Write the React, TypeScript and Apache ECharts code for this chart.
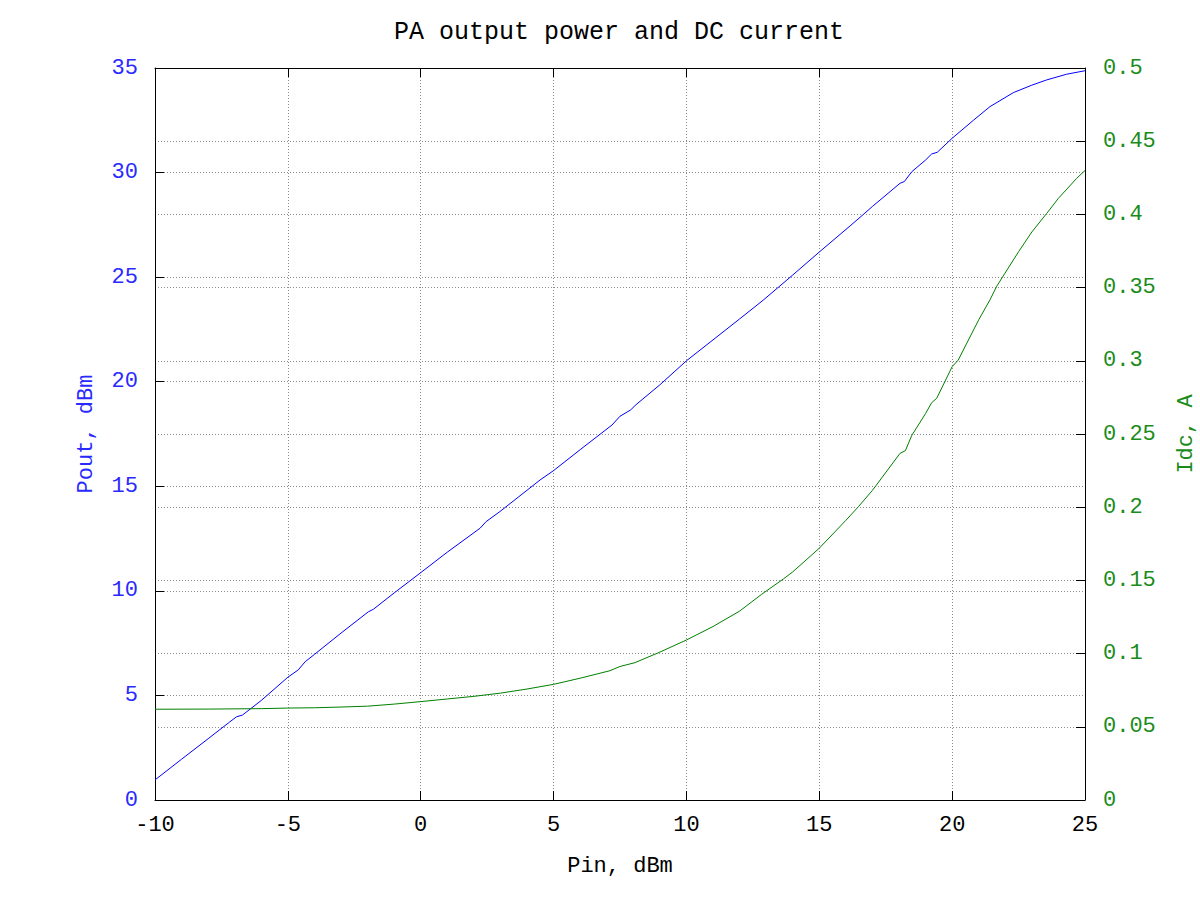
import React, { useEffect, useRef } from "react";
import * as echarts from "echarts";

const titleText = "PA output power and DC current";
const xName = "Pin, dBm";
const yLeftName = "Pout, dBm";
const yRightName = "Idc, A";

// Pout curve (Pin in dBm, Pout in dBm)
const poutPin = [-10, -9, -8, -7.2, -6.93, -6.71, -6, -5, -4.61, -4.35, -4, -3, -1.97, -1.78, -1, 0, 1, 2.23, 2.46, 2.98, 3.21, 4.49, 5, 6, 7.2, 7.5, 7.9, 8.1, 9, 10, 11, 12, 12.89, 14, 15, 16.16, 16.66, 17, 18.04, 18.2, 18.48, 19, 19.23, 19.44, 20, 20.8, 21.42, 22.3, 23, 23.56, 24.3, 25];
const poutVal = [0.96, 1.95, 2.93, 3.72, 3.98, 4.06, 4.76, 5.87, 6.22, 6.61, 6.96, 7.98, 9.0, 9.12, 9.9, 10.87, 11.85, 12.99, 13.31, 13.79, 14.02, 15.3, 15.75, 16.75, 17.93, 18.35, 18.65, 18.9, 19.85, 21.0, 22.0, 23.0, 23.9, 25.1, 26.2, 27.45, 28.0, 28.38, 29.49, 29.57, 30.04, 30.6, 30.89, 30.97, 31.64, 32.5, 33.15, 33.82, 34.18, 34.43, 34.7, 34.87];

// Idc curve (Pin in dBm, Idc in A)
const idcPin = [-10, -8, -6, -5, -4, -3, -2, -1, 0, 1, 2, 3, 4, 5, 6, 7.12, 7.5, 8.06, 9, 10, 11, 12, 12.83, 13.65, 14, 15, 16, 16.47, 17, 18.04, 18.24, 18.48, 19, 19.23, 19.42, 20, 20.23, 21, 21.42, 21.68, 22.5, 23, 23.56, 24, 24.69, 25];
const idcVal = [0.062, 0.0621, 0.0624, 0.0628, 0.063, 0.0635, 0.0641, 0.0655, 0.0672, 0.069, 0.0708, 0.073, 0.0758, 0.079, 0.0832, 0.0883, 0.0912, 0.0938, 0.101, 0.1093, 0.1185, 0.129, 0.1405, 0.151, 0.1558, 0.172, 0.191, 0.2003, 0.2115, 0.2368, 0.2386, 0.249, 0.264, 0.2714, 0.2744, 0.296, 0.3005, 0.328, 0.3415, 0.351, 0.3745, 0.388, 0.4007, 0.411, 0.4247, 0.43];

const FONT = "'Liberation Mono', 'DejaVu Sans Mono', monospace";
const BLUE = "#2a2aff";
const GREEN = "#1a8c1a";

export default function App() {
  const ref = useRef<HTMLDivElement>(null);
  useEffect(() => {
    document.body.style.margin = "0";
    const chart = echarts.init(ref.current!, null, { renderer: "svg" });
    const gridLine = { show: true, lineStyle: { color: "#8a8a8a", width: 1, type: [1, 2] as any } };
    const axisLineStyle = { show: true, onZero: false, lineStyle: { color: "#000", width: 1 } };
    const tick = { show: true, inside: true, length: 9, lineStyle: { color: "#000" } };
    chart.setOption({
      animation: false,
      backgroundColor: "#fff",
      graphic: [
        {
          type: "text",
          x: 619,
          y: 32,
          style: {
            text: titleText,
            font: `25px ${FONT}`,
            fill: "#000",
            textAlign: "center",
            textVerticalAlign: "middle",
          },
        },
      ],
      grid: {
        left: 155,
        right: 115,
        top: 68,
        bottom: 100,
        containLabel: false,
        outerBoundsMode: "none",
      },
      xAxis: [
        {
          type: "value",
          min: -10,
          max: 25,
          interval: 5,
          position: "bottom",
          axisLine: axisLineStyle,
          axisTick: tick,
          axisLabel: { fontFamily: FONT, fontSize: 22, color: "#000", margin: 14 },
          splitLine: gridLine,
          name: xName,
          nameLocation: "middle",
          nameGap: 55,
          nameTextStyle: { fontFamily: FONT, fontSize: 22, color: "#000" },
        },
        {
          type: "value",
          min: -10,
          max: 25,
          interval: 5,
          position: "top",
          axisLine: axisLineStyle,
          axisTick: tick,
          axisLabel: { show: false },
          splitLine: { show: false },
        },
      ],
      yAxis: [
        {
          type: "value",
          min: 0,
          max: 35,
          interval: 5,
          position: "left",
          axisLine: axisLineStyle,
          axisTick: tick,
          axisLabel: { fontFamily: FONT, fontSize: 22, color: BLUE, margin: 17 },
          splitLine: gridLine,
          name: yLeftName,
          nameLocation: "middle",
          nameRotate: 90,
          nameGap: 58,
          nameTextStyle: { fontFamily: FONT, fontSize: 22, color: BLUE },
        },
        {
          type: "value",
          min: 0,
          max: 0.5,
          interval: 0.05,
          position: "right",
          axisLine: axisLineStyle,
          axisTick: tick,
          axisLabel: {
            fontFamily: FONT,
            fontSize: 22,
            color: GREEN,
            margin: 18,
            formatter: (v: number) => String(+v.toFixed(2)),
          },
          splitLine: gridLine,
          name: yRightName,
          nameLocation: "middle",
          nameRotate: 90,
          nameGap: 90,
          nameTextStyle: { fontFamily: FONT, fontSize: 22, color: GREEN, lineHeight: 22 },
        },
      ],
      series: [
        {
          type: "line",
          name: yLeftName,
          xAxisIndex: 0,
          yAxisIndex: 0,
          showSymbol: false,
          symbol: "none",
          lineStyle: { color: "#0000ff", width: 1 },
          itemStyle: { color: "#0000ff" },
          data: poutPin.map((x, i) => [x, poutVal[i]]),
          z: 3,
        },
        {
          type: "line",
          name: yRightName,
          xAxisIndex: 0,
          yAxisIndex: 1,
          showSymbol: false,
          symbol: "none",
          lineStyle: { color: "#008000", width: 1 },
          itemStyle: { color: "#008000" },
          data: idcPin.map((x, i) => [x, idcVal[i]]),
          z: 3,
        },
      ],
    });
    return () => chart.dispose();
  }, []);
  return (
    <div
      ref={ref}
      style={{ width: 1200, height: 900, position: "absolute", left: 0, top: 0, background: "#fff" }}
    />
  );
}
